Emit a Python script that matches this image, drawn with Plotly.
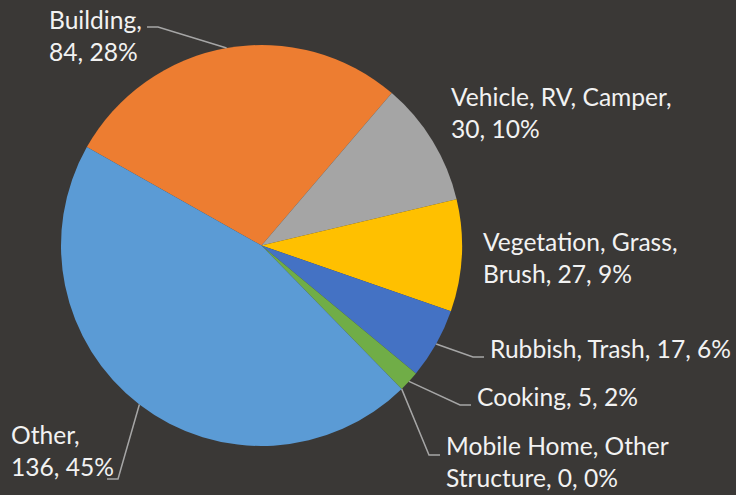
import math
import plotly.graph_objects as go

# ---- data ----
categories = ["Building", "Vehicle, RV, Camper", "Vegetation, Grass, Brush",
              "Rubbish, Trash", "Cooking", "Mobile Home, Other Structure", "Other"]
counts = [84, 30, 27, 17, 5, 0, 136]
label_texts = ["Building,<br>84, 28%", "Vehicle, RV, Camper,<br>30, 10%",
               "Vegetation, Grass,<br>Brush, 27, 9%", "Rubbish, Trash, 17, 6%",
               "Cooking, 5, 2%", "Mobile Home, Other<br>Structure, 0, 0%",
               "Other,<br>136, 45%"]

# ---- style ----
W, H = 736, 495
BG = "#3A3836"
colors = ["#ED7D31", "#A5A5A5", "#FFC000", "#4472C4", "#70AD47", "#264478", "#5B9BD5"]
CX, CY, R = 261.5, 245.5, 200.5
ROTATION = -60.6
FONT = "Lato"
FS = 24.6
TXT = "#F2F2F2"
LINE_COL = "#A6A6A6"

# label box anchor (left x, middle y) in pixels, and elbow points (None = no line)
label_pos = [(47, 35.4), (449, 112), (481, 257.5), (488, 348.4), (475, 396.7), (443.5, 461.2), (9, 450)]
elbows = [[(158, 27), (147, 27)], None, None, [(473, 357), (484, 357)],
          [(460, 405), (471, 405)], [(429, 455), (440, 455)], [(118, 479), (107, 479)]]


def px(x):
    return x / W


def py(y):
    return 1 - y / H


fig = go.Figure(go.Pie(
    labels=categories, values=counts, sort=False, direction="clockwise",
    rotation=ROTATION, textinfo="none", hoverinfo="label+value+percent",
    marker=dict(colors=colors, line=dict(width=0)),
    domain=dict(x=[px(CX - R), px(CX + R)], y=[py(CY + R), py(CY - R)]),
    showlegend=False,
))

total = sum(counts)
cum = 0.0
shapes = []
annotations = []
for i, v in enumerate(counts):
    mid = ROTATION + 360.0 * (cum + v / 2.0) / total
    cum += v
    ex = CX + R * math.sin(math.radians(mid))
    ey = CY - R * math.cos(math.radians(mid))
    if elbows[i]:
        pts = [(ex, ey)] + elbows[i]
        path = "M " + " L ".join(f"{px(a):.5f},{py(b):.5f}" for a, b in pts)
        shapes.append(dict(type="path", path=path, xref="paper", yref="paper",
                           line=dict(color=LINE_COL, width=1.5)))
    lx, ly = label_pos[i]
    annotations.append(dict(text=label_texts[i], x=px(lx), y=py(ly), xref="paper", yref="paper",
                            xanchor="left", yanchor="middle", align="left", showarrow=False,
                            font=dict(family=FONT, size=FS, color=TXT)))

fig.update_layout(width=W, height=H, margin=dict(l=0, r=0, t=0, b=0),
                  paper_bgcolor=BG, plot_bgcolor=BG, shapes=shapes, annotations=annotations)
fig.write_html("out.html", config={"displayModeBar": False},
               post_script="document.body.style.margin='0';")
